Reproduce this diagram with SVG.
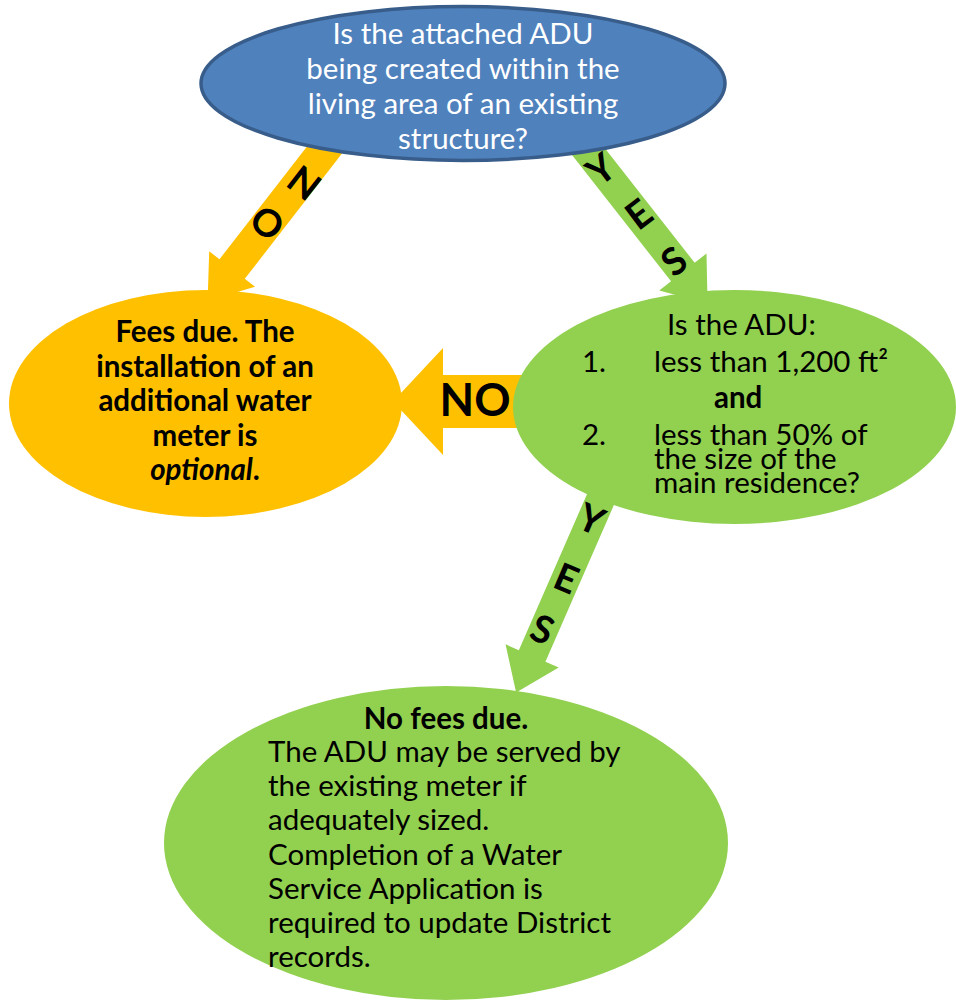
<svg xmlns="http://www.w3.org/2000/svg" width="956" height="1000" viewBox="0 0 956 1000">
<style>
.t{font-family:Lato,"Liberation Sans",sans-serif;font-size:29.5px;fill:#000}
.w{fill:#fff}
.b{font-weight:bold}
.c{text-anchor:middle}
.lbl{font-family:Lato,"Liberation Sans",sans-serif;font-weight:bold;font-size:38px;fill:#000;text-anchor:middle;dominant-baseline:central}
.org{fill:#FFC000}
.grn{fill:#92D050}
</style>
<rect width="956" height="1000" fill="#fff"/>
<g id="connectors">
  <g id="arrow-no-left" transform="translate(340,130) rotate(127.8)">
    <polygon class="org" points="0,-16 176,-16 176,-29 216,0 176,29 176,16 0,16"/>
  </g>
  <g id="arrow-yes-right" transform="translate(571.5,130) rotate(51.9)">
    <polygon class="grn" points="0,-15 180.5,-15 180.5,-30 220.5,0 180.5,30 180.5,15 0,15"/>
  </g>
  <g id="arrow-yes-bottom" transform="translate(609,480) rotate(113.6)">
    <polygon class="grn" points="0,-14.5 192,-14.5 192,-29 232,0 192,29 192,14.5 0,14.5"/>
  </g>
  <polygon id="arrow-no-mid" class="org" points="560,375 443,375 443,348 393,401.5 443,455 443,428 560,428"/>
  <text class="lbl" transform="translate(305,182) rotate(38)">N</text>
  <text class="lbl" transform="translate(268,222) rotate(38)">O</text>
  <text class="lbl" transform="translate(600,168) rotate(-37)">Y</text>
  <text class="lbl" transform="translate(638,213) rotate(-37)">E</text>
  <text class="lbl" transform="translate(673,260) rotate(-37)">S</text>
  <text class="lbl" transform="translate(592,518) rotate(23)">Y</text>
  <text class="lbl" transform="translate(567,577) rotate(23)">E</text>
  <text class="lbl" transform="translate(543,628) rotate(23)">S</text>
</g>
<g id="node-question1">
  <ellipse cx="463" cy="83.5" rx="262" ry="77" fill="#4F81BD" stroke="#385D8A" stroke-width="3.5"/>
  <text class="t w c" x="463" y="44">Is the attached ADU</text>
  <text class="t w c" x="463" y="79">being created within the</text>
  <text class="t w c" x="463" y="114">living area of an existing</text>
  <text class="t w c" x="463" y="149">structure?</text>
</g>
<g id="node-fees">
  <ellipse class="org" cx="205.5" cy="403.5" rx="196.5" ry="113.5"/>
  <text class="t b c" x="205" y="342">Fees due. The</text>
  <text class="t b c" x="205" y="376.5">installation of an</text>
  <text class="t b c" x="205" y="411">additional water</text>
  <text class="t b c" x="205" y="445.5">meter is</text>
  <text class="t b c" x="205" y="480"><tspan font-style="italic">optional</tspan>.</text>
</g>
<g id="node-question2">
  <ellipse class="grn" cx="734.5" cy="407" rx="221.5" ry="117"/>
  <text class="t" x="667" y="335">Is the ADU:</text>
  <text class="t" x="582" y="372">1.</text>
  <text class="t" x="654" y="372">less than 1,200 ft²</text>
  <text class="t b" x="714" y="408">and</text>
  <text class="t" x="582" y="445">2.</text>
  <text class="t" x="654" y="445">less than 50% of</text>
  <text class="t" x="654" y="469">the size of the</text>
  <text class="t" x="654" y="493">main residence?</text>
</g>
<g id="node-nofees">
  <ellipse class="grn" cx="446" cy="843" rx="282" ry="157"/>
  <text class="t b c" x="446" y="729">No fees due.</text>
  <text class="t" x="268" y="762">The ADU may be served by</text>
  <text class="t" x="268" y="796">the existing meter if</text>
  <text class="t" x="268" y="830">adequately sized.</text>
  <text class="t" x="268" y="865">Completion of a Water</text>
  <text class="t" x="268" y="899">Service Application is</text>
  <text class="t" x="268" y="933">required to update District</text>
  <text class="t" x="268" y="967">records.</text>
</g>
<text class="t b c" x="475" y="416" style="font-size:45px">NO</text>
</svg>
